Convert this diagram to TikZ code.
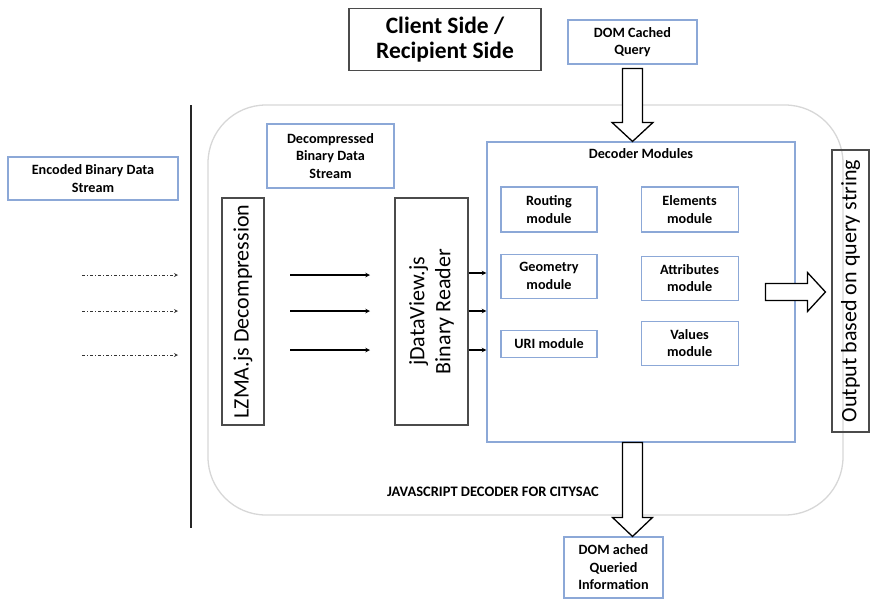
\documentclass[tikz,border=0pt]{standalone}
\usepackage{fontspec}
\setmainfont{Carlito}
\usetikzlibrary{positioning}
\usetikzlibrary{calc}

\definecolor{boxblue}{RGB}{140,168,215}
\definecolor{framegrey}{RGB}{215,215,215}
\definecolor{edgegrey}{RGB}{75,75,75}

\begin{document}
\begin{tikzpicture}
	[	x=1pt, y=-1pt,
		auto,
		box/.style={rectangle,draw=boxblue,line width=1.1pt,align=center,inner sep=2pt,
			font=\bfseries\fontsize{14.2}{17.5}\selectfont},
		grey/.style={rectangle,draw=edgegrey,line width=1.1pt,align=center,inner sep=2pt},
		side/.style={grey,rotate=90,font=\fontsize{22}{26}\selectfont},
		txt/.style={inner sep=0pt,font=\bfseries\fontsize{14.2}{17.5}\selectfont},
		vec/.style={->,>=stealth,line width=1.1pt},
		dashvec/.style={->,>=stealth,line width=0.8pt,black!80,dash pattern=on 3pt off 2pt on 1pt off 2pt},
		fat/.style={draw=black,fill=white,line width=1.3pt,line join=miter}	]
	\useasboundingbox (0,0) rectangle (871,600);

	% rounded frame of the decoder and the divider line
	\node[draw=framegrey,line width=1.3pt,rounded corners=58pt,minimum width=635,minimum height=410] (frame) at (525.5,310) {};
	\draw[line width=2.2pt,black!85] (191,105) -- (191,528);

	\node[grey,minimum width=192,minimum height=62,font=\bfseries\fontsize{23.5}{25}\selectfont] (client) at (445,39.5) {Client Side /\\Recipient Side};
	\node[box,minimum width=129,minimum height=44] (query) at (632.5,42) {DOM Cached\\Query};

	\node[box,minimum width=170,minimum height=43] (encoded) at (93,178.5) {Encoded Binary Data\\Stream};
	\node[box,minimum width=127,minimum height=64] (decomp) at (330.5,156) {Decompressed\\Binary Data\\Stream};

	\node[side,minimum width=227,minimum height=42] (lzma) at (243,311.5) {LZMA.js Decompression};
	\node[side,minimum width=227,minimum height=73] (reader) at (431.5,311.5) {jDataView.js\\Binary Reader};

	% decoder with its modules
	\node[box,minimum width=308,minimum height=300] (decoder) at (641,292) {};
	\node[txt] (dectitle) [below = 7pt of decoder.north] {Decoder Modules};
	\node[box,minimum width=96,minimum height=45] (routing) at (549,209.5) {Routing\\module};
	\node[box,minimum width=97,minimum height=45] (elements) [right = 43pt of routing] {Elements\\module};
	\node[box,minimum width=96,minimum height=44] (geometry) [below = 21pt of routing] {Geometry\\module};
	\node[box,minimum width=97,minimum height=44] (attributes) [below = 23pt of elements] {Attributes\\module};
	\node[box,minimum width=96,minimum height=27] (uri) [below = 31pt of geometry] {URI module};
	\node[box,minimum width=97,minimum height=44] (values) [below = 20pt of attributes] {Values\\module};

	\node[side,minimum width=282,minimum height=37] (output) at (850.5,291) {Output based on query string};
	\node[box,minimum width=99,minimum height=61] (answer) at (613.5,567.5) {DOM ached\\Queried\\Information};
	\node[txt,font=\bfseries\fontsize{14.5}{17}\selectfont] (jslabel) at (493,492) {JAVASCRIPT DECODER FOR CITYSAC};

	% incoming stream
	\coordinate (src1) at (82,275);  \coordinate (dst1) at (178,275);
	\coordinate (src2) at (82,311);  \coordinate (dst2) at (178,311);
	\coordinate (src3) at (82,355);  \coordinate (dst3) at (178,355);
	\draw[dashvec] (src1) to (dst1);
	\draw[dashvec] (src2) to (dst2);
	\draw[dashvec] (src3) to (dst3);

	% lzma to reader
	\coordinate (mid1) at (290,275);
	\coordinate (mid2) at (290,311);
	\coordinate (mid3) at (290,350);
	\draw[vec] (mid1) to (mid1 -| 370,0);
	\draw[vec] (mid2) to (mid2 -| 370,0);
	\draw[vec] (mid3) to (mid3 -| 370,0);

	% reader to decoder
	\draw[vec] (reader.south |- 0,273) to (decoder.west |- 0,273);
	\draw[vec] (reader.south |- 0,311) to (decoder.west |- 0,311);
	\draw[vec] (reader.south |- 0,350) to (decoder.west |- 0,350);

	% hollow arrows
	\draw[fat] let \p1=(query.south), \p2=(decoder.north) in
		(\x1-10pt,\y1-4pt) -- (\x1-10pt,\y2+19pt) -- (\x1-20.5pt,\y2+19pt) -- (\x1,\y2)
		-- (\x1+20.5pt,\y2+19pt) -- (\x1+10pt,\y2+19pt) -- (\x1+10pt,\y1-4pt) -- cycle;
	\draw[fat] let \p1=(decoder.south -| query.south), \p2=(answer.north) in
		(\x1-10pt,\y1) -- (\x1-10pt,\y2+19pt) -- (\x1-20pt,\y2+19pt) -- (\x1,\y2)
		-- (\x1+20pt,\y2+19pt) -- (\x1+10pt,\y2+19pt) -- (\x1+10pt,\y1) -- cycle;
	\draw[fat] let \p1=(decoder.east), \p2=(output.north) in
		(\x1-30pt,\y1+8.5pt) -- (\x2-24pt,\y1+8.5pt) -- (\x2-24pt,\y1+19.5pt) -- (\x2-6pt,\y1)
		-- (\x2-24pt,\y1-19.5pt) -- (\x2-24pt,\y1-8.5pt) -- (\x1-30pt,\y1-8.5pt) -- cycle;
\end{tikzpicture}
\end{document}
